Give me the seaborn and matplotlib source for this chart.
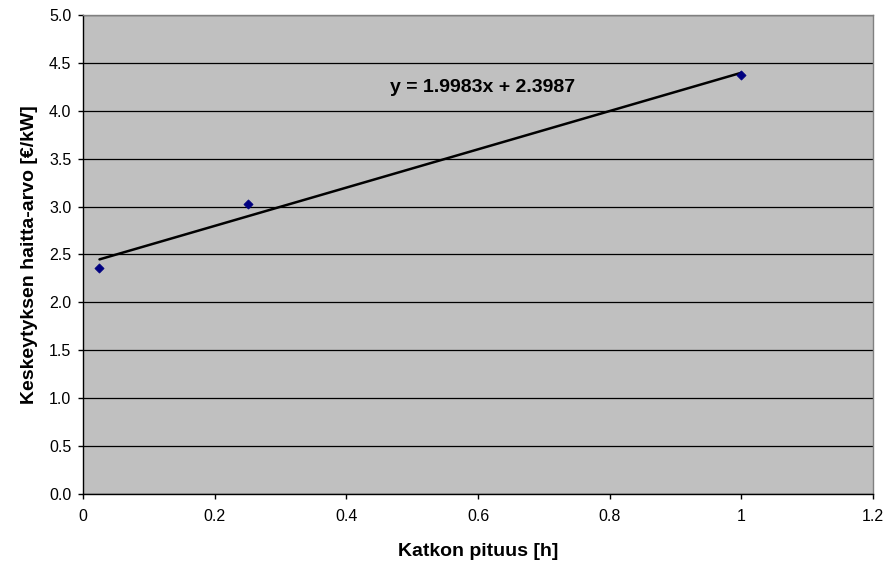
import numpy as np
import pandas as pd
import matplotlib
matplotlib.use("Agg")
import matplotlib.pyplot as plt
import seaborn as sns
from matplotlib.ticker import FuncFormatter, MultipleLocator

# data
katko_h = [0.025, 0.25, 1.0]
haitta_arvo = [2.355, 3.025, 4.375]
slope = 1.9983
intercept = 2.3987
eq_label = "y = 1.9983x + 2.3987"

df = pd.DataFrame({"Katkon pituus [h]": katko_h,
                   "Keskeytyksen haitta-arvo [€/kW]": haitta_arvo})

sns.set_style("white")
plt.rcParams['font.family'] = ['Liberation Sans', 'DejaVu Sans']
plt.rcParams['text.color'] = 'black'
plt.rcParams['axes.labelcolor'] = 'black'
plt.rcParams['xtick.color'] = 'black'
plt.rcParams['ytick.color'] = 'black'

fig = plt.figure(figsize=(8.89, 5.63), dpi=100)
ax = fig.add_axes([0.0934, 0.1226, 0.8886, 0.8508])
ax.set_facecolor("#c0c0c0")

# trendline over data range
xs = np.array([min(katko_h), max(katko_h)])
ax.plot(xs, slope * xs + intercept, color="black", lw=1.8, zorder=3)

sns.scatterplot(data=df, x="Katkon pituus [h]", y="Keskeytyksen haitta-arvo [€/kW]",
                marker="D", color="#000080", s=22, edgecolor="#000080",
                linewidth=0.5, ax=ax, zorder=4)

ax.text(0.466, 4.24, eq_label, fontsize=14, fontweight="bold", va="center", ha="left")

ax.set_xlim(0, 1.2)
ax.set_ylim(0, 5.0)
ax.xaxis.set_major_locator(MultipleLocator(0.2))
ax.yaxis.set_major_locator(MultipleLocator(0.5))
ax.xaxis.set_major_formatter(FuncFormatter(lambda v, p: "{:g}".format(round(v, 2))))
ax.yaxis.set_major_formatter(FuncFormatter(lambda v, p: "{:.1f}".format(v)))

ax.yaxis.grid(True, color="black", lw=0.9)
ax.set_axisbelow(True)
ax.tick_params(axis="both", direction="out", length=3.5, width=1, color="black",
               labelsize=11.5, bottom=True, left=True)
ax.tick_params(axis="x", pad=7)
ax.tick_params(axis="y", pad=5)

for s in ["left", "bottom"]:
    ax.spines[s].set_color("black")
    ax.spines[s].set_linewidth(1)
for s in ["top", "right"]:
    ax.spines[s].set_color("#808080")
    ax.spines[s].set_linewidth(1)

ax.set_xlabel("Katkon pituus [h]", fontsize=14, fontweight="bold", labelpad=14)
ax.set_ylabel("Keskeytyksen haitta-arvo [€/kW]", fontsize=14, fontweight="bold", labelpad=8)

fig.savefig("out.png", dpi=100)
